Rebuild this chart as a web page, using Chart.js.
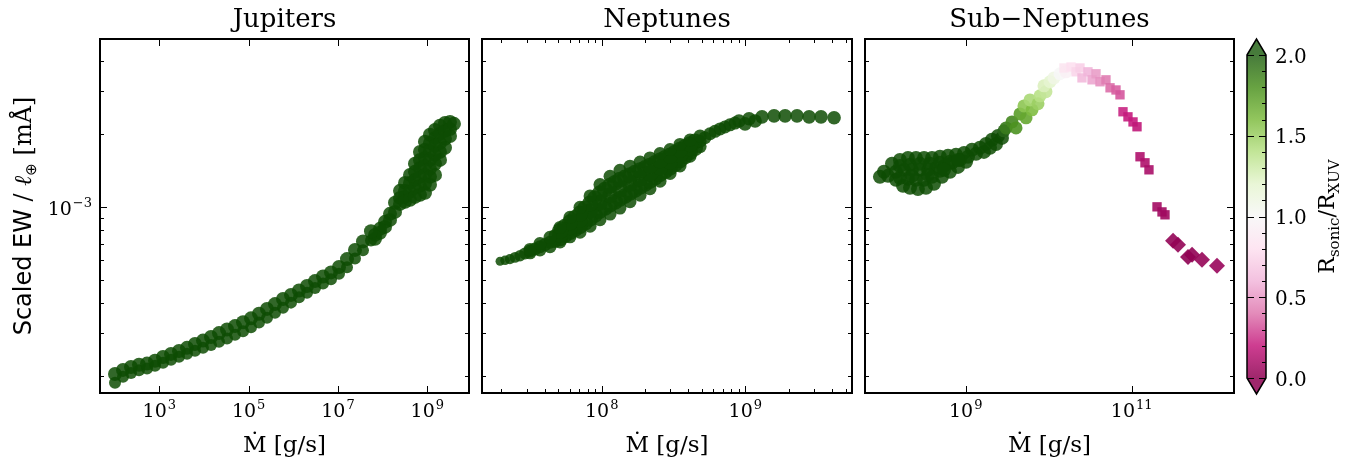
<!DOCTYPE html>
<html>
<head>
<meta charset="utf-8">
<script src="https://cdn.jsdelivr.net/npm/chart.js@4.4.1/dist/chart.umd.min.js"></script>
<style>
  html, body { margin: 0; padding: 0; background: #fff; }
  #wrap { position: relative; width: 1365px; height: 462px; overflow: hidden; }
  #wrap canvas { position: absolute; left: 0; top: 0; }
</style>
</head>
<body>
<div id="wrap">
  <canvas id="jup" width="1365" height="462"></canvas>
  <canvas id="nep" width="1365" height="462"></canvas>
  <canvas id="sub" width="1365" height="462"></canvas>
  <canvas id="cbar" width="1365" height="462"></canvas>
</div>
<script>
// ---------------- data (log10 of Mdot [g/s] and of scaled EW [mÅ]) ----------------

// Jupiters: two rows of models along the band ...
const jupLogMdot = [2.008,2.187,2.366,2.545,2.725,2.904,3.083,3.262,3.441,3.620,3.799,3.978,4.157,4.337,4.516,4.695,4.874,5.053,5.232,5.411,5.590,5.769,5.948,6.128,6.307,6.486,6.665,6.844,7.023,7.202,7.381,7.560,7.739];
const jupUpperLogEW = [-3.691,-3.674,-3.662,-3.653,-3.648,-3.636,-3.621,-3.608,-3.596,-3.583,-3.567,-3.553,-3.538,-3.522,-3.507,-3.493,-3.477,-3.461,-3.442,-3.422,-3.402,-3.381,-3.364,-3.346,-3.327,-3.307,-3.288,-3.271,-3.249,-3.216,-3.178,-3.143,-3.101];
const jupLowerLogEW = [-3.727,-3.702,-3.687,-3.676,-3.668,-3.657,-3.645,-3.632,-3.620,-3.607,-3.595,-3.583,-3.571,-3.558,-3.544,-3.529,-3.514,-3.498,-3.478,-3.459,-3.438,-3.417,-3.396,-3.374,-3.355,-3.336,-3.317,-3.299,-3.277,-3.250,-3.214,-3.180,-3.139];
// ... and the thick cap of models at high Mdot
const jupCapLogMdot = [7.829,7.829,7.941,7.941,8.053,8.053,8.165,8.165,8.277,8.277,
  8.389,8.389,8.389, 8.501,8.501,8.501,8.501, 8.613,8.613,8.613,8.613,
  8.724,8.724,8.724,8.724,8.724, 8.836,8.836,8.836,8.836,8.836,8.836,
  8.948,8.948,8.948,8.948,8.948,8.948,8.948, 9.060,9.060,9.060,9.060,9.060,9.060,9.060,
  9.172,9.172,9.172,9.172,9.172,9.172, 9.284,9.284,9.284,9.284,9.284,
  9.396,9.396,9.396,9.396, 9.508,9.508,9.508, 9.597];
const jupCapLogEW = [-3.116,-3.132,-3.091,-3.107,-3.062,-3.083,-3.029,-3.054,-2.983,-3.021,
  -2.934,-2.963,-2.988, -2.901,-2.934,-2.959,-2.979, -2.868,-2.901,-2.938,-2.971,
  -2.822,-2.855,-2.888,-2.921,-2.959, -2.773,-2.806,-2.839,-2.876,-2.913,-2.950,
  -2.731,-2.764,-2.798,-2.831,-2.868,-2.905,-2.942, -2.702,-2.736,-2.769,-2.806,-2.843,-2.876,-2.909,
  -2.682,-2.715,-2.748,-2.785,-2.822,-2.868, -2.665,-2.698,-2.736,-2.773,-2.806,
  -2.653,-2.686,-2.719,-2.756, -2.649,-2.678,-2.707, -2.657];

// Neptunes: rows across the widening band (null where a row is absent)
const nepLogMdot = [7.292,7.361,7.431,7.501,7.570,7.640,7.710,7.779,7.849,7.919,7.988,8.058,8.127,8.197,8.267,8.336,8.406,8.476,8.545,8.615,8.685,8.754,8.824,8.893];
const nepTopLogEW = [null,null,null,-3.176,-3.152,-3.126,-3.085,-3.043,-3.002,-2.955,-2.908,-2.874,-2.849,-2.832,-2.815,-2.798,-2.780,-2.763,-2.742,-2.724,-2.707,null,null,null];
const nepQ1LogEW  = [null,null,null,null,null,null,-3.100,-3.064,-3.028,-2.986,-2.944,-2.913,-2.888,-2.869,-2.849,-2.830,-2.808,-2.788,-2.764,-2.741,null,null,null,null];
const nepMidLogEW = [-3.225,-3.216,-3.202,-3.183,-3.165,-3.146,-3.115,-3.084,-3.054,-3.017,-2.981,-2.952,-2.927,-2.905,-2.883,-2.862,-2.837,-2.813,-2.786,-2.758,-2.729,-2.698,-2.678,-2.661];
const nepQ3LogEW  = [null,null,null,null,null,null,-3.130,-3.104,-3.080,-3.049,-3.017,-2.991,-2.967,-2.942,-2.917,-2.893,-2.865,-2.838,-2.808,-2.774,null,null,null,null];
const nepBotLogEW = [null,null,null,-3.190,-3.178,-3.165,-3.145,-3.124,-3.105,-3.080,-3.053,-3.030,-3.005,-2.979,-2.952,-2.925,-2.894,-2.862,-2.831,-2.791,-2.751,null,null,null];
// models lying between the rows above
const nepShiftLogMdot = [7.327,7.396,7.466,7.536,7.605,7.675,7.744,7.814,7.884,7.953,8.023,8.093,8.162,8.232,8.302,8.371,8.441,8.511,8.580,8.650,8.719,8.789,8.858,8.928];
const nepShiftUpperLogEW = [-3.221,-3.209,-3.193,-3.174,-3.156,-3.118,-3.082,-3.046,-3.007,-2.965,-2.929,-2.901,-2.879,-2.859,-2.840,-2.819,-2.798,-2.776,-2.753,-2.730,-2.714,-2.688,-2.670,-2.654];
const nepShiftLowerLogEW = [null,null,null,null,null,-3.143,-3.117,-3.092,-3.065,-3.033,-3.004,-2.979,-2.955,-2.930,-2.905,-2.879,-2.852,-2.823,-2.791,-2.757,null,null,null,null];
const nepCapLogMdot = [8.956,8.998,9.026,9.068,9.116,9.200,9.277,9.360,9.444,9.527,9.618];
const nepCapLogEW   = [-2.645,-2.657,-2.636,-2.645,-2.628,-2.624,-2.624,-2.624,-2.628,-2.628,-2.632];

// Sub-Neptunes: core models with R_sonic/R_XUV above the colour range
const subCoreLogMdot = [8.016,8.112,8.208,8.305,8.401,8.498,8.594,8.690,8.787,8.883,8.980,9.076,
  7.967,8.064,8.160,8.257,8.353,8.449,8.546,8.642,8.739,8.835,8.931,9.028,9.124,
  8.160,8.245,8.329,8.425,8.522,8.618,8.714,8.811,8.907,9.004,
  8.208,8.305,8.401,8.498,8.594,8.690,
  8.208,8.329,8.449,8.570,8.690,8.811,8.907,
  8.353,8.546,8.739,
  9.172,9.220,9.245,9.293,9.317,9.365,9.389,9.437];
const subCoreLogEW = [-2.855,-2.822,-2.806,-2.798,-2.798,-2.798,-2.798,-2.793,-2.789,-2.785,-2.777,-2.764,
  -2.876,-2.872,-2.855,-2.847,-2.847,-2.847,-2.847,-2.839,-2.831,-2.818,-2.806,-2.793,-2.781,
  -2.888,-2.913,-2.921,-2.926,-2.921,-2.905,-2.876,-2.855,-2.835,-2.814,
  -2.880,-2.884,-2.888,-2.888,-2.876,-2.851,
  -2.831,-2.826,-2.822,-2.822,-2.818,-2.814,-2.806,
  -2.872,-2.868,-2.847,
  -2.756,-2.773,-2.740,-2.756,-2.723,-2.740,-2.707,-2.715];
// circles, squares and diamonds coloured by R_sonic/R_XUV
const subCircLogMdot = [9.461,9.486,9.558,9.606,9.654,9.727,9.702,9.799,9.775,9.871,9.895,9.967,9.943,10.016,10.064,10.136,10.208];
const subCircLogEW   = [-2.686,-2.674,-2.649,-2.674,-2.616,-2.632,-2.583,-2.599,-2.558,-2.574,-2.541,-2.524,-2.500,-2.483,-2.467,-2.450,-2.442];
const subCircRatio   = [2.0,1.9,1.85,1.8,1.75,1.7,1.55,1.6,1.45,1.5,1.4,1.35,1.25,1.2,1.1,1.0,0.95];
const subSqLogMdot = [10.184,10.269,10.329,10.377,10.401,10.473,10.522,10.570,10.618,10.690,10.739,10.811,10.859,10.895,10.955,11.016,11.064,11.100,11.160,11.208,11.305,11.365,11.401];
const subSqLogEW   = [-2.426,-2.422,-2.442,-2.426,-2.467,-2.442,-2.475,-2.450,-2.483,-2.475,-2.508,-2.517,-2.537,-2.607,-2.628,-2.649,-2.669,-2.793,-2.818,-2.847,-3.000,-3.021,-3.033];
const subSqRatio   = [0.85,0.8,0.75,0.72,0.62,0.6,0.55,0.52,0.48,0.42,0.38,0.35,0.33,0.22,0.2,0.2,0.18,0.12,0.12,0.1,0.08,0.07,0.07];
const subDiaLogMdot = [11.498,11.558,11.678,11.727,11.847,12.028];
const subDiaLogEW   = [-3.140,-3.157,-3.207,-3.198,-3.219,-3.244];
const subDiaRatio   = [0.02,0.02,0.0,0.01,0.03,0.04];

// axis limits and tick positions
const yLimits = [1.70e-4, 4.94e-3];
const yMajorTicks = [1e-3];
const jupXLimits = [47, 8.58e9];
const nepXLimits = [1.467e7, 5.53e9];
const subXLimits = [6.12e7, 1.708e12];
const jupXTicks = [1e3, 1e5, 1e7, 1e9];
const nepXTicks = [1e8, 1e9];
const subXTicks = [1e9, 1e11];
const cbarTicks = [0, 0.5, 1.0, 1.5, 2.0];
const cbarRange = [0, 2];

// ---------------- styling ----------------
const SERIF = '"DejaVu Serif", serif';
const SANS = '"DejaVu Sans", sans-serif';
const ALPHA = 0.85;        // dark green markers and colour bar
const MARK_ALPHA = 0.9;    // markers coloured through the colour map
const OVER = 'rgba(14,76,4,' + ALPHA + ')';
const PIYG = [[142,1,82],[197,27,125],[222,119,174],[241,182,218],[253,224,239],[247,247,247],
              [230,245,208],[184,225,134],[127,188,65],[77,146,33],[39,100,25]];

function piyg(t) {
  t = Math.min(1, Math.max(0, t));
  const s = t * 10, i = Math.min(9, Math.floor(s)), f = s - i;
  const a = PIYG[i], b = PIYG[i + 1];
  return a.map((v, k) => Math.round(v + (b[k] - v) * f));
}
function rgba(c, a) { return 'rgba(' + c[0] + ',' + c[1] + ',' + c[2] + ',' + a + ')'; }
function ratioColour(r) {
  if (r > cbarRange[1]) return OVER;
  return rgba(piyg((r - cbarRange[0]) / (cbarRange[1] - cbarRange[0])), MARK_ALPHA);
}
function points(lx, ly) {
  const out = [];
  lx.forEach((v, i) => { if (ly[i] !== null) out.push({ x: Math.pow(10, v), y: Math.pow(10, ly[i]) }); });
  return out;
}
function dotSet(data, radius, style, colour) {
  return { data, pointRadius: radius, pointHoverRadius: radius, pointStyle: style || 'circle',
           backgroundColor: colour || OVER, borderWidth: 0, pointBorderWidth: 0 };
}
function minorTicks(min, max) {
  const out = [];
  for (let d = Math.floor(Math.log10(min)); d <= Math.ceil(Math.log10(max)); d++) {
    for (let m = 2; m <= 9; m++) {
      const v = m * Math.pow(10, d);
      if (v > min && v < max) out.push(v);
    }
  }
  return out;
}

// "10" with a raised exponent
function drawPow(ctx, exp, x, baseY, align) {
  const base = '10', e = exp < 0 ? '\u2212' + (-exp) : String(exp);
  ctx.font = '19px ' + SERIF; const wb = ctx.measureText(base).width;
  ctx.font = '13px ' + SERIF; const we = ctx.measureText(e).width;
  const total = wb + 1 + we;
  const x0 = align === 'center' ? x - total / 2 : (align === 'right' ? x - total : x);
  ctx.textAlign = 'left'; ctx.textBaseline = 'alphabetic';
  ctx.font = '19px ' + SERIF; ctx.fillText(base, x0, baseY);
  ctx.font = '13px ' + SERIF; ctx.fillText(e, x0 + wb + 1, baseY - 8);
}

// text made of runs with their own font and vertical shift, centred on (0,0)
function drawRuns(ctx, runs) {
  let total = 0;
  runs.forEach(r => { ctx.font = r.f; r.w = ctx.measureText(r.t).width; total += r.w; });
  let x = -total / 2;
  ctx.textAlign = 'left'; ctx.textBaseline = 'alphabetic';
  runs.forEach(r => { ctx.font = r.f; ctx.fillText(r.t, x, r.dy || 0); x += r.w; });
}

const panelDecor = {
  id: 'panelDecor',
  afterDraw(chart, args, o) {
    const { ctx, chartArea: a } = chart;
    const xs = chart.scales.x, ys = chart.scales.y;
    const MAJ = 7, MIN = 4;
    ctx.save();
    ctx.strokeStyle = '#000'; ctx.lineWidth = 1;
    const seg = (x1, y1, x2, y2) => { ctx.beginPath(); ctx.moveTo(x1, y1); ctx.lineTo(x2, y2); ctx.stroke(); };
    const xTick = (v, len) => { const p = Math.round(xs.getPixelForValue(v)) + 0.5; seg(p, a.bottom, p, a.bottom - len); seg(p, a.top, p, a.top + len); };
    const yTick = (v, len) => { const p = Math.round(ys.getPixelForValue(v)) + 0.5; seg(a.left, p, a.left + len, p); seg(a.right, p, a.right - len, p); };
    o.xMajor.forEach(v => xTick(v, MAJ));
    if (o.xMinor) minorTicks(xs.min, xs.max).forEach(v => xTick(v, MIN));
    yMajorTicks.forEach(v => yTick(v, MAJ));
    minorTicks(ys.min, ys.max).forEach(v => yTick(v, MIN));
    ctx.lineWidth = 2;
    ctx.strokeRect(a.left, a.top, a.width, a.height);

    ctx.fillStyle = '#000';
    o.xMajor.forEach(v => drawPow(ctx, Math.round(Math.log10(v)), xs.getPixelForValue(v), 417, 'center'));
    if (o.yLabels) yMajorTicks.forEach(v => drawPow(ctx, Math.round(Math.log10(v)), a.left - 8, ys.getPixelForValue(v) + 8, 'right'));

    const cx = (a.left + a.right) / 2;
    ctx.textAlign = 'center'; ctx.textBaseline = 'alphabetic';
    ctx.font = '23px ' + SERIF;
    ctx.fillText('\u1E40 [g/s]', cx, 452);
    ctx.font = '26px ' + SERIF;
    ctx.fillText(o.title, cx, 27);

    if (o.yTitle) {
      ctx.save();
      ctx.translate(31, (a.top + a.bottom) / 2);
      ctx.rotate(-Math.PI / 2);
      drawRuns(ctx, [
        { t: 'Scaled EW', f: '24px ' + SANS },
        { t: ' / ', f: '24px ' + SERIF },
        { t: '\u2113', f: 'italic 24px ' + SERIF },
        { t: '\u2295', f: '15px ' + SANS, dy: 5 },
        { t: ' [m\u00C5]', f: '24px ' + SERIF }
      ]);
      ctx.restore();
    }
    ctx.restore();
  }
};

function panel(id, xLimits, datasets, decor, layoutX) {
  return new Chart(document.getElementById(id), {
    type: 'scatter',
    data: { datasets },
    options: {
      responsive: false, animation: false, devicePixelRatio: 1, events: [],
      layout: { padding: { left: layoutX[0], right: 1365 - layoutX[1], top: 39, bottom: 462 - 393 } },
      plugins: { legend: { display: false }, tooltip: { enabled: false }, panelDecor: decor },
      scales: {
        x: { type: 'logarithmic', min: xLimits[0], max: xLimits[1], display: false },
        y: { type: 'logarithmic', min: yLimits[0], max: yLimits[1], display: false }
      }
    },
    plugins: [panelDecor]
  });
}

// ---------------- panels ----------------
panel('jup', jupXLimits, [
  dotSet(points(jupLogMdot, jupUpperLogEW), 7),
  dotSet(points(jupLogMdot, jupLowerLogEW), 6),
  dotSet(points(jupCapLogMdot, jupCapLogEW), 7)
], { title: 'Jupiters', xMajor: jupXTicks, xMinor: false, yLabels: true, yTitle: true }, [100, 469]);

// marker sizes along the Neptune band: small at the thin end, large inside the wide part
const midRadius = c => (c.dataIndex < 3 ? 4.5 + 0.6 * c.dataIndex : (c.dataIndex <= 5 || c.dataIndex >= 20 ? 6.5 : 8));
const shiftUpperRadius = c => (c.dataIndex < 3 ? 4.8 + 0.6 * c.dataIndex : (c.dataIndex <= 5 || c.dataIndex >= 20 ? 6.5 : 8));
const shiftLowerRadius = c => (c.dataIndex === 0 ? 6.5 : 8);
panel('nep', nepXLimits, [
  dotSet(points(nepLogMdot, nepTopLogEW), 6.5),
  dotSet(points(nepLogMdot, nepQ1LogEW), 8),
  dotSet(points(nepLogMdot, nepMidLogEW), midRadius),
  dotSet(points(nepLogMdot, nepQ3LogEW), 8),
  dotSet(points(nepLogMdot, nepBotLogEW), 6.5),
  dotSet(points(nepShiftLogMdot, nepShiftUpperLogEW), shiftUpperRadius),
  dotSet(points(nepShiftLogMdot, nepShiftLowerLogEW), shiftLowerRadius),
  dotSet(points(nepCapLogMdot, nepCapLogEW), 6.8)
], { title: 'Neptunes', xMajor: nepXTicks, xMinor: true, yLabels: false, yTitle: false }, [482, 852]);

panel('sub', subXLimits, [
  dotSet(points(subDiaLogMdot, subDiaLogEW), 8, 'rectRot', subDiaRatio.map(ratioColour)),
  dotSet(points(subSqLogMdot, subSqLogEW), 6.6, 'rect', subSqRatio.map(ratioColour)),
  dotSet(points(subCircLogMdot, subCircLogEW), 6.5, 'circle', subCircRatio.map(ratioColour)),
  dotSet(points(subCoreLogMdot, subCoreLogEW), 7)
], { title: 'Sub\u2212Neptunes', xMajor: subXTicks, xMinor: false, yLabels: false, yTitle: false }, [865, 1234]);

// ---------------- colour bar ----------------
const cbarDecor = {
  id: 'cbarDecor',
  afterDraw(chart) {
    const { ctx, chartArea: a } = chart;
    const ys = chart.scales.y;
    const ext = 16, cx = (a.left + a.right) / 2;
    ctx.save();
    // extension triangles
    ctx.fillStyle = rgba(PIYG[10], ALPHA);
    ctx.beginPath(); ctx.moveTo(a.left, a.top); ctx.lineTo(cx, a.top - ext); ctx.lineTo(a.right, a.top); ctx.closePath(); ctx.fill();
    ctx.fillStyle = rgba(PIYG[0], ALPHA);
    ctx.beginPath(); ctx.moveTo(a.left, a.bottom); ctx.lineTo(cx, a.bottom + ext); ctx.lineTo(a.right, a.bottom); ctx.closePath(); ctx.fill();
    // ticks
    ctx.strokeStyle = '#000'; ctx.lineWidth = 1;
    const seg = (x1, y1, x2, y2) => { ctx.beginPath(); ctx.moveTo(x1, y1); ctx.lineTo(x2, y2); ctx.stroke(); };
    for (let k = 1; k < 20; k++) {
      const p = Math.round(ys.getPixelForValue(k * 0.1)) + 0.5;
      seg(a.right, p, a.right - 4, p);
    }
    cbarTicks.forEach(v => {
      const p = Math.round(ys.getPixelForValue(v)) + 0.5;
      seg(a.right, p, a.right - 7, p); seg(a.left, p, a.left + 7, p);
    });
    // outline
    ctx.lineWidth = 1.5;
    ctx.beginPath();
    ctx.moveTo(a.left, a.top); ctx.lineTo(cx, a.top - ext); ctx.lineTo(a.right, a.top);
    ctx.lineTo(a.right, a.bottom); ctx.lineTo(cx, a.bottom + ext); ctx.lineTo(a.left, a.bottom);
    ctx.closePath(); ctx.stroke();
    // labels
    ctx.fillStyle = '#000'; ctx.font = '20px ' + SERIF; ctx.textAlign = 'left'; ctx.textBaseline = 'alphabetic';
    cbarTicks.forEach(v => ctx.fillText(v.toFixed(1), a.right + 9, ys.getPixelForValue(v) + 7.5));
    ctx.translate(1334, (a.top + a.bottom) / 2);
    ctx.rotate(-Math.PI / 2);
    drawRuns(ctx, [
      { t: 'R', f: '22px ' + SERIF },
      { t: 'sonic', f: '15px ' + SERIF, dy: 5 },
      { t: '/', f: '22px ' + SERIF },
      { t: 'R', f: '22px ' + SERIF },
      { t: 'XUV', f: '15px ' + SERIF, dy: 5 }
    ]);
    ctx.restore();
  }
};

new Chart(document.getElementById('cbar'), {
  type: 'bar',
  data: {
    labels: [''],
    datasets: [{
      data: [cbarRange],
      borderWidth: 0,
      barPercentage: 1, categoryPercentage: 1,
      backgroundColor(c) {
        const chart = c.chart;
        if (!chart.chartArea) return OVER;
        const ys = chart.scales.y;
        const g = chart.ctx.createLinearGradient(0, ys.getPixelForValue(cbarRange[0]), 0, ys.getPixelForValue(cbarRange[1]));
        PIYG.forEach((col, i) => g.addColorStop(i / 10, rgba(col, ALPHA)));
        return g;
      }
    }]
  },
  options: {
    responsive: false, animation: false, devicePixelRatio: 1, events: [],
    layout: { padding: { left: 1247, right: 1365 - 1266, top: 55, bottom: 462 - 378 } },
    plugins: { legend: { display: false }, tooltip: { enabled: false } },
    scales: {
      x: { display: false },
      y: { min: cbarRange[0], max: cbarRange[1], display: false }
    }
  },
  plugins: [cbarDecor]
});
</script>
</body>
</html>
